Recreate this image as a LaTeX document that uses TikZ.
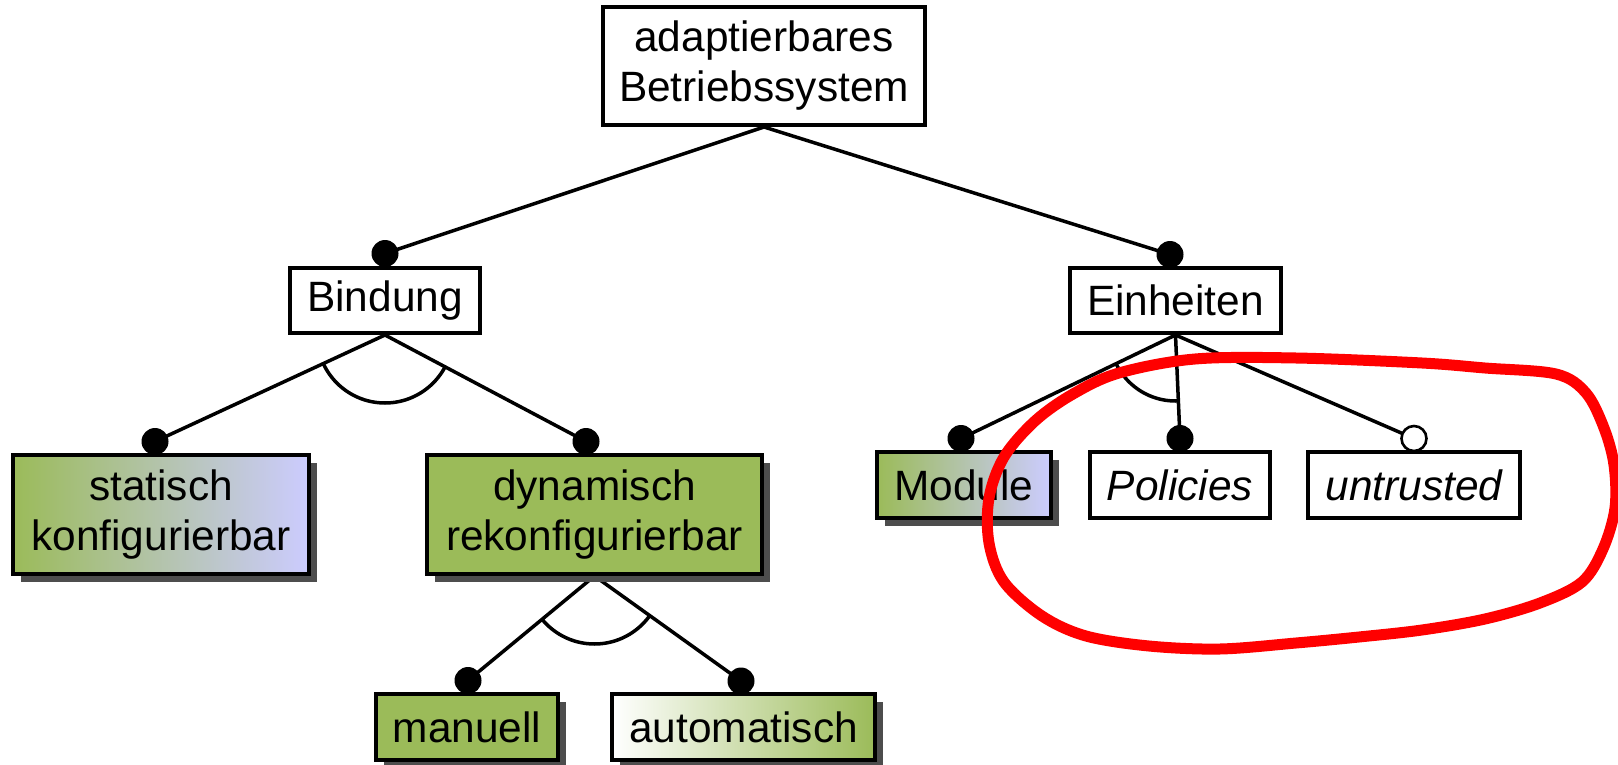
\documentclass[tikz,border=0pt]{standalone}
\usepackage{fontspec}
\setmainfont{Liberation Sans}
\usetikzlibrary{shadows,backgrounds}
\definecolor{featgreen}{RGB}{155,187,89}
\definecolor{featlav}{RGB}{204,204,255}
\definecolor{shadowgray}{RGB}{77,77,77}
\definecolor{loopred}{RGB}{255,0,0}

\begin{document}
\begin{tikzpicture}[x=0.5pt,y=-0.5pt,
  feature/.style={draw=black, line width=2pt, inner sep=0pt, align=center,
    font=\fontsize{21.2pt}{25pt}\selectfont},
  plainbox/.style={feature, fill=white},
  shadowed/.style={drop shadow={shadow xshift=4pt, shadow yshift=-4pt, opacity=1, fill=shadowgray}},
  greenbox/.style={feature, shadowed, fill=featgreen},
  mixbox/.style={feature, shadowed, left color=featgreen, right color=featlav},
  fadebox/.style={feature, shadowed, left color=white, right color=featgreen},
  mandatory/.style={circle, fill=black, draw=none, minimum size=13.5pt, inner sep=0pt},
  optional/.style={circle, fill=white, draw=black, line width=1.3pt, minimum size=12.5pt, inner sep=0pt},
  edge/.style={draw=black, line width=1.75pt},
  grouparc/.style={draw=black, line width=1.75pt},
  loop/.style={draw=loopred, line width=5.5pt, line join=round}
]
\useasboundingbox (0,0) rectangle (1618,765);

% feature boxes
\node[plainbox, minimum width=161pt, minimum height=59pt] (root) at (764,66)
  {adaptierbares\\Betriebssystem};
\node[plainbox, minimum width=95pt, minimum height=32.5pt] (bind) at (385,300.5) {Bindung};
\node[plainbox, minimum width=105.5pt, minimum height=32.5pt] (einh) at (1175.5,300.5) {Einheiten};

\node[mixbox, minimum width=148pt, minimum height=59.5pt] (stat) at (161,514.5)
  {statisch\\konfigurierbar};
\node[greenbox, minimum width=167.5pt, minimum height=59.5pt] (dyn) at (594.5,514.5)
  {dynamisch\\rekonfigurierbar};

\node[greenbox, minimum width=91pt, minimum height=33pt] (man) at (467,727) {manuell};
\node[fadebox, minimum width=131.5pt, minimum height=33pt] (auto) at (743.5,727) {automatisch};

\node[mixbox, minimum width=87pt, minimum height=33pt] (mod) at (964,485) {Module};
\node[plainbox, minimum width=90pt, minimum height=33pt] (pol) at (1180,485) {\itshape Policies};
\node[plainbox, minimum width=106pt, minimum height=33pt] (untr) at (1414,485) {\itshape untrusted};

% attachment dots
\node[mandatory] (dbind) at (385,253.5) {};
\node[mandatory] (deinh) at (1170,254.5) {};
\node[mandatory] (dstat) at (155,441.5) {};
\node[mandatory] (ddyn)  at (586,441.5) {};
\node[mandatory] (dman)  at (468,680.5) {};
\node[mandatory] (dauto) at (741,681) {};
\node[mandatory] (dmod)  at (961,438.5) {};
\node[mandatory] (dpol)  at (1180,438.5) {};
\node[optional]  (duntr) at (1414,438.5) {};

% connectors and group arcs behind the boxes and dots
\begin{scope}[on background layer]
  \draw[edge] (root.south) -- (dbind.center);
  \draw[edge] (root.south) -- (deinh.center);

  \draw[edge] (bind.south) -- (dstat.center);
  \draw[edge] (bind.south) -- (ddyn.center);
  \begin{scope}
    \clip (bind.south) -- (dstat.center) -- (ddyn.center) -- cycle;
    \draw[grouparc] (bind.south) circle [radius=68];
  \end{scope}

  \draw[edge] (dyn.south) -- (dman.center);
  \draw[edge] (dyn.south) -- (dauto.center);
  \begin{scope}
    \clip (dyn.south) -- (dman.center) -- (dauto.center) -- cycle;
    \draw[grouparc] (dyn.south) circle [radius=68];
  \end{scope}

  \draw[edge] (einh.south) -- (dmod.center);
  \draw[edge] (einh.south) -- (dpol.center);
  \draw[edge] (einh.south) -- (duntr.center);
  \begin{scope}
    \clip (einh.south) -- (dmod.center) -- (dpol.center) -- cycle;
    \draw[grouparc] (einh.south) circle [radius=66];
  \end{scope}
\end{scope}

% hand-drawn red loop
\draw[loop] plot[smooth cycle, tension=0.55] coordinates {
  (1119,373) (1195,359) (1296,358) (1422,363) (1485,368) (1556,374)
  (1586,393) (1604,428) (1614,465) (1615,508) (1603,549) (1582,582)
  (1540,603) (1485,619) (1422,630) (1359,637) (1296,643) (1220,649)
  (1149,646) (1086,636) (1042,616) (1004,582) (989,543) (989,498)
  (1004,457) (1035,421) (1073,394)};
\end{tikzpicture}
\end{document}
